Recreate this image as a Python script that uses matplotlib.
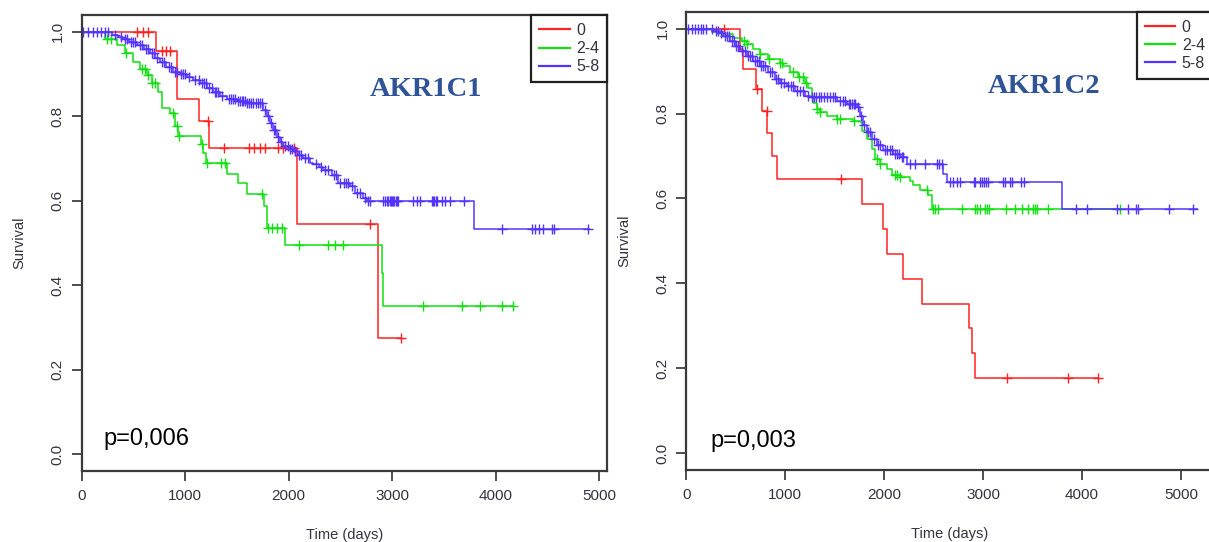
import matplotlib.pyplot as plt
import numpy as np

# ---- data (time in days, survival) ----
groups = ['0', '2-4', '5-8']
colors = ['#FF2222', '#11E011', '#5533FF']

# AKR1C1, group 0
c1_g0_t = [718, 921, 1137, 1230, 2077, 2860]
c1_g0_s = [0.954, 0.841, 0.788, 0.726, 0.546, 0.274]
c1_g0_cens = [540, 590, 640, 775, 815, 855, 1225, 1380, 1620, 1670, 1720, 1770,
              1900, 1950, 2050, 2786, 3082]
# AKR1C1, group 2-4
c1_g24_t = [226, 338, 420, 499, 563, 628, 676, 740, 773, 853, 902, 934, 1150, 1175,
            1205, 1408, 1514, 1594, 1760, 1787, 1962, 2899, 2915]
c1_g24_s = [0.984, 0.969, 0.949, 0.929, 0.913, 0.898, 0.878, 0.858, 0.819, 0.807,
            0.776, 0.754, 0.735, 0.712, 0.690, 0.664, 0.642, 0.615, 0.587, 0.536,
            0.495, 0.430, 0.351]
c1_g24_cens = [248, 280, 425, 580, 612, 644, 680, 708, 885, 918, 940, 1160, 1210,
               1342, 1384, 1745, 1803, 1836, 1884, 1932, 2103, 2383, 2447, 2522,
               3295, 3677, 3848, 4064, 4164]
# AKR1C1, group 5-8
c1_g58_t = [290, 350, 402, 460, 531, 600, 660, 710, 757, 820, 885, 950, 1014, 1080,
            1143, 1210, 1272, 1340, 1401, 1500, 1594, 1755, 1790, 1819, 1850, 1884,
            1915, 1948, 2000, 2045, 2090, 2141, 2206, 2238, 2290, 2335, 2415, 2479,
            2592, 2641, 2721, 2754, 3793]
c1_g58_s = [0.992, 0.988, 0.984, 0.976, 0.969, 0.959, 0.949, 0.939, 0.929, 0.918,
            0.906, 0.900, 0.894, 0.886, 0.878, 0.868, 0.858, 0.849, 0.840, 0.836,
            0.831, 0.815, 0.800, 0.784, 0.768, 0.752, 0.740, 0.729, 0.723, 0.717,
            0.709, 0.701, 0.690, 0.686, 0.680, 0.674, 0.662, 0.642, 0.634, 0.619,
            0.607, 0.599, 0.534]
c1_g58_cens = [15, 64, 112, 145, 193, 225, 257, 320, 380, 420, 440, 480, 500, 520,
               560, 580, 620, 640, 680, 700, 730, 780, 800, 840, 860, 900, 920, 960,
               980, 1000, 1040, 1100, 1130, 1160, 1180, 1200, 1230, 1260, 1290, 1300,
               1320, 1360, 1420, 1440, 1460, 1480, 1510, 1530, 1550, 1560, 1580, 1600,
               1620, 1640, 1660, 1680, 1700, 1720, 1740, 1770, 1800, 1830, 1860, 1870,
               1900, 1930, 1960, 1990, 2010, 2030, 2060, 2100, 2120, 2160, 2190, 2260,
               2310, 2350, 2380, 2440, 2460, 2500, 2530, 2550, 2570, 2610, 2660, 2690,
               2740, 2770, 2786, 2914, 2930, 2947, 2963, 2975, 2990, 3000, 3010, 3020,
               3035, 3045, 3059, 3204, 3237, 3269, 3382, 3395, 3405, 3418, 3430, 3478,
               3510, 3559, 3688, 4064, 4348, 4380, 4412, 4460, 4541, 4563, 4885]
c1_g58_end = 4895

# AKR1C2, group 0
c2_g0_t = [543, 577, 705, 762, 819, 863, 914, 1773, 1992, 2033, 2188, 2386, 2862,
           2885, 2919]
c2_g0_s = [0.952, 0.906, 0.859, 0.807, 0.754, 0.700, 0.646, 0.586, 0.529, 0.469,
           0.411, 0.351, 0.294, 0.236, 0.177]
c2_g0_cens = [381, 710, 813, 1564, 3239, 3862, 4160]
# AKR1C2, group 2-4
c2_g24_t = [260, 374, 475, 560, 611, 677, 745, 829, 947, 981, 1049, 1132, 1200, 1234,
            1268, 1284, 1318, 1352, 1420, 1521, 1689, 1756, 1773, 1824, 1875, 1908,
            1959, 2026, 2077, 2161, 2262, 2295, 2363, 2447, 2481]
c2_g24_s = [0.993, 0.987, 0.979, 0.971, 0.963, 0.952, 0.940, 0.928, 0.920, 0.912,
            0.897, 0.885, 0.873, 0.861, 0.842, 0.826, 0.811, 0.803, 0.795, 0.787,
            0.783, 0.779, 0.760, 0.740, 0.717, 0.693, 0.682, 0.670, 0.654, 0.650,
            0.642, 0.631, 0.619, 0.607, 0.576]
c2_g24_cens = [580, 615, 750, 835, 950, 965, 1082, 1135, 1180, 1210, 1320, 1355,
               1525, 1555, 1700, 1925, 1962, 2110, 2130, 2165, 2430, 2498, 2515, 2548,
               2785, 2919, 2942, 2970, 3020, 3044, 3064, 3232, 3324, 3391, 3458, 3508,
               3526, 3549, 3660, 4385]
# AKR1C2, group 5-8
c2_g58_t = [273, 330, 374, 442, 492, 543, 611, 677, 745, 829, 897, 947, 1015, 1099,
            1200, 1251, 1521, 1622, 1723, 1756, 1790, 1824, 1875, 1925, 1992, 2093,
            2161, 2229, 2599, 2633, 3802]
c2_g58_s = [0.995, 0.989, 0.983, 0.971, 0.959, 0.948, 0.936, 0.924, 0.912, 0.897,
            0.881, 0.873, 0.866, 0.854, 0.842, 0.838, 0.830, 0.823, 0.815, 0.795,
            0.772, 0.756, 0.740, 0.725, 0.713, 0.705, 0.697, 0.680, 0.658, 0.639,
            0.576]
c2_g58_cens = [20, 55, 88, 121, 146, 172, 199, 257, 300, 320, 350, 390, 410, 430,
               460, 480, 500, 520, 560, 590, 620, 640, 660, 690, 710, 730, 760, 780,
               800, 850, 870, 910, 930, 960, 990, 1030, 1060, 1080, 1120, 1150, 1180,
               1230, 1270, 1290, 1310, 1340, 1360, 1390, 1420, 1450, 1480, 1500, 1550,
               1580, 1600, 1640, 1660, 1680, 1700, 1710, 1740, 1770, 1800, 1840, 1860,
               1900, 1940, 1960, 2010, 2030, 2060, 2080, 2110, 2130, 2150, 2180, 2194,
               2262, 2312, 2414, 2532, 2558, 2582, 2666, 2700, 2734, 2767, 2909, 2919,
               2970, 2987, 3010, 3030, 3054, 3199, 3222, 3273, 3290, 3381, 3415, 3940,
               4055, 4352, 4469, 4547, 4570, 4884, 5127]
c2_g58_end = 5161

xticks = [0, 1000, 2000, 3000, 4000, 5000]
yticks = [0.0, 0.2, 0.4, 0.6, 0.8, 1.0]

TXT = '#333340'
plt.rcParams['font.family'] = ['Liberation Sans', 'DejaVu Sans']


def km(ax, drop_t, drop_s, cens, color, label, end=None):
    # step curve + censoring ticks
    drop_t = np.asarray(drop_t)
    levels = np.r_[1.0, drop_s]
    if end is None:
        end = max(cens[-1], drop_t[-1])
    t = np.r_[0, drop_t, end]
    s = np.r_[levels, levels[-1]]
    ax.step(t, s, where='post', color=color, lw=1.1, label=label)
    idx = np.searchsorted(drop_t, cens, side='right')
    ax.plot(cens, levels[idx], '+', ms=6.5, mew=1.0, color=color)


def style(ax, xmax, title, ptxt, title_x, title_y, p_x, p_y):
    ax.set_xlim(0, xmax)
    ax.set_ylim(-0.04, 1.04)
    ax.set_xticks(xticks)
    ax.set_yticks(yticks)
    ax.set_yticklabels(['%.1f' % v for v in yticks], rotation=90, va='center')
    ax.tick_params(direction='out', length=7, width=1.3, colors='#404040',
                   labelcolor=TXT, labelsize=11)
    ax.tick_params(axis='x', pad=6)
    ax.tick_params(axis='y', pad=5)
    for sp in ax.spines.values():
        sp.set_color('#3a3a3a')
        sp.set_linewidth(1.6)
    ax.set_xlabel('Time (days)', fontsize=10.5, color=TXT)
    ax.set_ylabel('Survival', fontsize=10.5, color=TXT)
    ax.xaxis.set_label_coords(0.5, -0.125)
    ax.yaxis.set_label_coords(-0.104, 0.5)
    ax.text(title_x, title_y, title, transform=ax.transAxes, ha='center',
            va='baseline', fontsize=20.5, fontweight='bold',
            family='Liberation Serif', color='#2F5496')
    ax.text(p_x, p_y, ptxt, transform=ax.transAxes, ha='left', va='baseline',
            fontsize=17, color='black')
    leg = ax.legend(loc='upper right', borderaxespad=0, fontsize=11.5,
                    handlelength=1.9, handletextpad=0.4, labelspacing=0.2,
                    borderpad=0.5, fancybox=False, framealpha=1,
                    edgecolor='#202020')
    leg.get_frame().set_linewidth(1.6)
    for txt in leg.get_texts():
        txt.set_color(TXT)
    for ln in leg.get_lines():
        ln.set_linewidth(1.6)


fig = plt.figure(figsize=(12.09, 5.42), dpi=100)
ax1 = fig.add_axes([81.5 / 1209, 71 / 542, 525.7 / 1209, 456 / 542])
ax2 = fig.add_axes([686.3 / 1209, 72 / 542, 526.7 / 1209, 458.3 / 542])

km(ax1, c1_g0_t, c1_g0_s, c1_g0_cens, colors[0], groups[0])
km(ax1, c1_g24_t, c1_g24_s, c1_g24_cens, colors[1], groups[1])
km(ax1, c1_g58_t, c1_g58_s, c1_g58_cens, colors[2], groups[2], end=c1_g58_end)
style(ax1, 5075, 'AKR1C1', 'p=0,006', 0.656, 0.823, 0.042, 0.058)

km(ax2, c2_g0_t, c2_g0_s, c2_g0_cens, colors[0], groups[0])
km(ax2, c2_g24_t, c2_g24_s, c2_g24_cens, colors[1], groups[1])
km(ax2, c2_g58_t, c2_g58_s, c2_g58_cens, colors[2], groups[2], end=c2_g58_end)
style(ax2, 5325, 'AKR1C2', 'p=0,003', 0.679, 0.822, 0.045, 0.051)

plt.savefig('out.png', dpi=100)
